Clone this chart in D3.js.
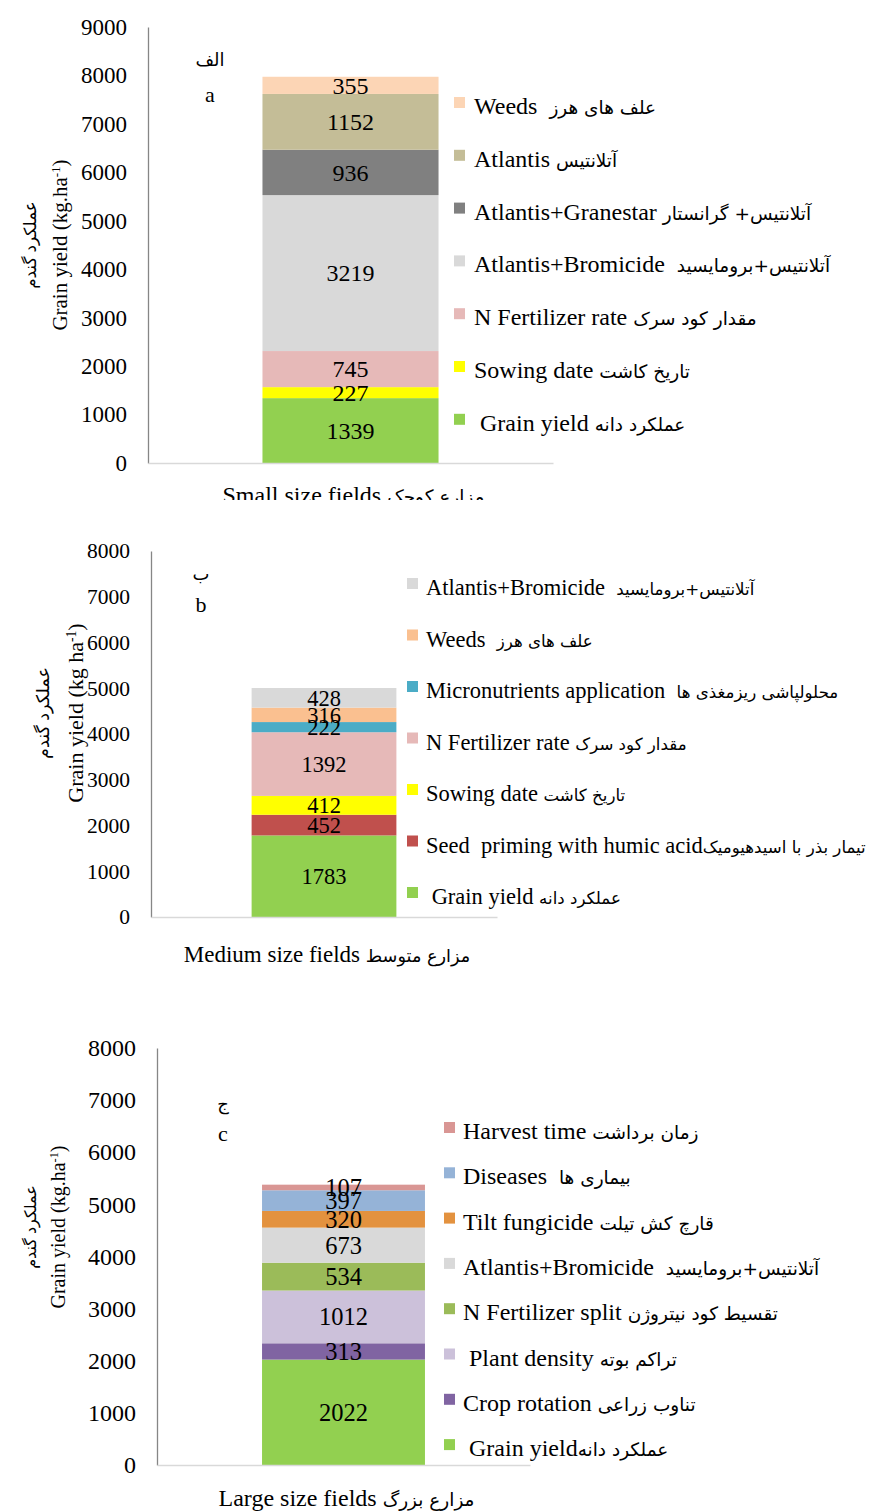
<!DOCTYPE html>
<html>
<head>
<meta charset="utf-8">
<script src="https://cdn.jsdelivr.net/npm/d3@7"></script>
<style>
  html, body { margin: 0; padding: 0; background: #fff; }
  svg text { font-family: "Liberation Serif", "DejaVu Sans", serif; fill: #000; white-space: pre; }
</style>
</head>
<body>
<svg id="chart" width="875" height="1511"></svg>
<script>
// ---------- DATA ----------
// Panel a (small size fields)
const categoryA = ["Small size fields ", "مزارع کوچک"];
const seriesA = ["Grain yield", "Sowing date", "N Fertilizer rate", "Atlantis+Bromicide", "Atlantis+Granestar", "Atlantis", "Weeds"];
const valuesA = [1339, 227, 745, 3219, 936, 1152, 355];
const legendEnA = [" Grain yield ", "Sowing date ", "N Fertilizer rate ", "Atlantis+Bromicide  ", "Atlantis+Granestar ", "Atlantis ", "Weeds  "];
const legendFaA = ["عملکرد دانه", "تاریخ کاشت", "مقدار کود سرک", "آتلانتیس+برومایسید", "آتلانتیس+ گرانستار", "آتلانتیس", "علف های هرز"];
const ticksA = [0, 1000, 2000, 3000, 4000, 5000, 6000, 7000, 8000, 9000];

// Panel b (medium size fields)
const categoryB = ["Medium size fields ", "مزارع متوسط"];
const seriesB = ["Grain yield", "Seed priming with humic acid", "Sowing date", "N Fertilizer rate", "Micronutrients application", "Weeds", "Atlantis+Bromicide"];
const valuesB = [1783, 452, 412, 1392, 222, 316, 428];
const legendEnB = [" Grain yield ", "Seed  priming with humic acid", "Sowing date ", "N Fertilizer rate ", "Micronutrients application  ", "Weeds  ", "Atlantis+Bromicide  "];
const legendFaB = ["عملکرد دانه", "تیمار بذر با اسیدهیومیک", "تاریخ کاشت", "مقدار کود سرک", "محلولپاشی ریزمغذی ها", "علف های هرز", "آتلانتیس+برومایسید"];
const ticksB = [0, 1000, 2000, 3000, 4000, 5000, 6000, 7000, 8000];

// Panel c (large size fields)
const categoryC = ["Large size fields ", "مزارع بزرگ"];
const seriesC = ["Grain yield", "Crop rotation", "Plant density", "N Fertilizer split", "Atlantis+Bromicide", "Tilt fungicide", "Diseases", "Harvest time"];
const valuesC = [2022, 313, 1012, 534, 673, 320, 397, 107];
const legendEnC = [" Grain yield", "Crop rotation ", " Plant density ", "N Fertilizer split ", "Atlantis+Bromicide  ", "Tilt fungicide ", "Diseases  ", "Harvest time "];
const legendFaC = ["عملکرد دانه", "تناوب زراعی", "تراکم بوته", "تقسیط کود نیتروژن", "آتلانتیس+برومایسید", "قارچ کش تیلت", "بیماری ها", "زمان برداشت"];
const ticksC = [0, 1000, 2000, 3000, 4000, 5000, 6000, 7000, 8000];

// ---------- STYLES ----------
const colorsA = ["#92d050", "#ffff00", "#e6b9b8", "#d9d9d9", "#808080", "#c4bd97", "#fcd5b5"];
const colorsB = ["#92d050", "#c0504d", "#ffff00", "#e6b9b8", "#4bacc6", "#fac090", "#d9d9d9"];
const colorsC = ["#92d050", "#8064a2", "#ccc1da", "#9bbb59", "#d9d9d9", "#e3923f", "#95b3d7", "#d99694"];

// ---------- LAYOUT ----------
const panels = [
  { category: categoryA, series: seriesA, values: valuesA, legEn: legendEnA, legFa: legendFaA, ticks: ticksA, colors: colorsA,
    yMax: 9000, top: 27, bottom: 463, left: 148, right: 553, padding: 0.394,
    tickFont: 23, valFont: 24, legFont: 24, xFont: 24, titleFont: 21, faScale: 0.77,
    legSq: 454, legText: 474, legTop: 107, legStep: 52.8,
    title1: "(kg.ha", titleX: 60, titleFaX: 30, titleY: 245,
    letterFa: "الف", letter: "a", letterX: 210, letterFaY: 66, letterY: 102,
    xLabelY: 503, clip: 500 },
  { category: categoryB, series: seriesB, values: valuesB, legEn: legendEnB, legFa: legendFaB, ticks: ticksB, colors: colorsB,
    yMax: 8000, top: 551, bottom: 917, left: 151, right: 497, padding: 0.41,
    tickFont: 21.5, valFont: 22.5, legFont: 22.5, xFont: 23, titleFont: 22, faScale: 0.74,
    legSq: 407, legText: 426, legTop: 588, legStep: 51.5,
    title1: "(kg ha", titleX: 75, titleFaX: 43, titleY: 713,
    letterFa: "ب", letter: "b", letterX: 201, letterFaY: 580, letterY: 612,
    xLabelY: 962, clip: null },
  { category: categoryC, series: seriesC, values: valuesC, legEn: legendEnC, legFa: legendFaC, ticks: ticksC, colors: colorsC,
    yMax: 8000, top: 1048, bottom: 1465, left: 157, right: 530, padding: 0.392,
    tickFont: 24, valFont: 24.5, legFont: 24, xFont: 24, titleFont: 20, faScale: 0.77,
    legSq: 444, legText: 463, legTop: 1132, legStep: 45.3,
    title1: "(kg.ha", titleX: 58, titleFaX: 30, titleY: 1227,
    letterFa: "ج", letter: "c", letterX: 223, letterFaY: 1110, letterY: 1141,
    xLabelY: 1506, clip: null }
];

const svg = d3.select("#chart");
const defs = svg.append("defs");

panels.forEach((p, pi) => {
  const g = svg.append("g");
  if (p.clip !== null) {
    defs.append("clipPath").attr("id", "clip" + pi)
      .append("rect").attr("x", 0).attr("y", 0).attr("width", 875).attr("height", p.clip);
    g.attr("clip-path", `url(#clip${pi})`);
  }

  const catKey = p.category.join("");
  const y = d3.scaleLinear().domain([0, p.yMax]).range([p.bottom, p.top]);
  const x = d3.scaleBand().domain([catKey]).range([p.left, p.right]).padding(p.padding);

  // stacked data
  const row = { cat: catKey };
  p.series.forEach((s, i) => row[s] = p.values[i]);
  const stacked = d3.stack().keys(p.series)([row]);

  // bars
  g.selectAll("rect.seg").data(stacked).enter().append("rect")
    .attr("class", "seg")
    .attr("x", x(catKey))
    .attr("width", x.bandwidth())
    .attr("y", d => y(d[0][1]))
    .attr("height", d => y(d[0][0]) - y(d[0][1]))
    .attr("fill", (d, i) => p.colors[i]);

  // y axis
  const yAxis = g.append("g").attr("transform", `translate(${p.left},0)`)
    .call(d3.axisLeft(y).tickValues(p.ticks).tickSize(0).tickSizeOuter(0).tickPadding(21).tickFormat(d3.format("d")));
  yAxis.select(".domain").attr("stroke", "#868686").attr("stroke-width", 1.3);
  yAxis.selectAll("text").attr("font-size", p.tickFont).attr("font-family", "Liberation Serif").attr("fill", "#000");

  // x axis
  const xAxis = g.append("g").attr("transform", `translate(0,${p.bottom})`)
    .call(d3.axisBottom(x).tickSize(0).tickSizeOuter(0).tickFormat(""));
  xAxis.select(".domain").attr("stroke", "#d9d9d9").attr("stroke-width", 1.5);

  // category label
  const cl = g.append("text")
    .attr("x", x(catKey) + x.bandwidth() / 2 + 3)
    .attr("y", p.xLabelY)
    .attr("text-anchor", "middle")
    .attr("font-size", p.xFont);
  cl.append("tspan").text(p.category[0]);
  cl.append("tspan").attr("font-size", p.xFont * 0.77).attr("font-family", "DejaVu Sans").text(p.category[1]);

  // value labels
  g.selectAll("text.val").data(stacked).enter().append("text")
    .attr("class", "val")
    .attr("x", x(catKey) + x.bandwidth() / 2)
    .attr("y", d => (y(d[0][0]) + y(d[0][1])) / 2)
    .attr("dy", "0.35em")
    .attr("text-anchor", "middle")
    .attr("font-size", p.valFont)
    .text((d, i) => p.values[i]);

  // legend (reverse of stack order)
  const leg = g.selectAll("g.leg").data(p.series.map((s, i) => i).reverse()).enter().append("g")
    .attr("class", "leg")
    .attr("transform", (d, k) => `translate(0,${p.legTop + k * p.legStep})`);
  leg.append("rect")
    .attr("x", p.legSq).attr("y", -10).attr("width", 11).attr("height", 11)
    .attr("fill", i => p.colors[i]);
  const lt = leg.append("text")
    .attr("x", p.legText).attr("y", 7)
    .attr("font-size", p.legFont);
  lt.append("tspan").text(i => p.legEn[i]);
  lt.append("tspan").attr("font-size", p.legFont * p.faScale).attr("font-family", "DejaVu Sans").text(i => p.legFa[i]);

  // y title
  const t = g.append("text")
    .attr("transform", `translate(${p.titleX},${p.titleY}) rotate(-90)`)
    .attr("text-anchor", "middle")
    .attr("dy", "0.35em")
    .attr("font-size", p.titleFont);
  t.append("tspan").text("Grain yield " + p.title1);
  t.append("tspan").attr("baseline-shift", "super").attr("font-size", p.titleFont * 0.62).text("-1");
  t.append("tspan").text(")");
  g.append("text")
    .attr("transform", `translate(${p.titleFaX},${p.titleY}) rotate(-90)`)
    .attr("text-anchor", "middle")
    .attr("dy", "0.35em")
    .attr("font-size", p.titleFont * 0.8)
    .attr("font-family", "DejaVu Sans")
    .text("عملکرد گندم");

  // panel letters
  g.append("text").attr("x", p.letterX).attr("y", p.letterFaY).attr("text-anchor", "middle")
    .attr("font-size", 18).attr("font-family", "DejaVu Sans").text(p.letterFa);
  g.append("text").attr("x", p.letterX).attr("y", p.letterY).attr("text-anchor", "middle")
    .attr("font-size", 22).text(p.letter);
});
</script>
</body>
</html>
